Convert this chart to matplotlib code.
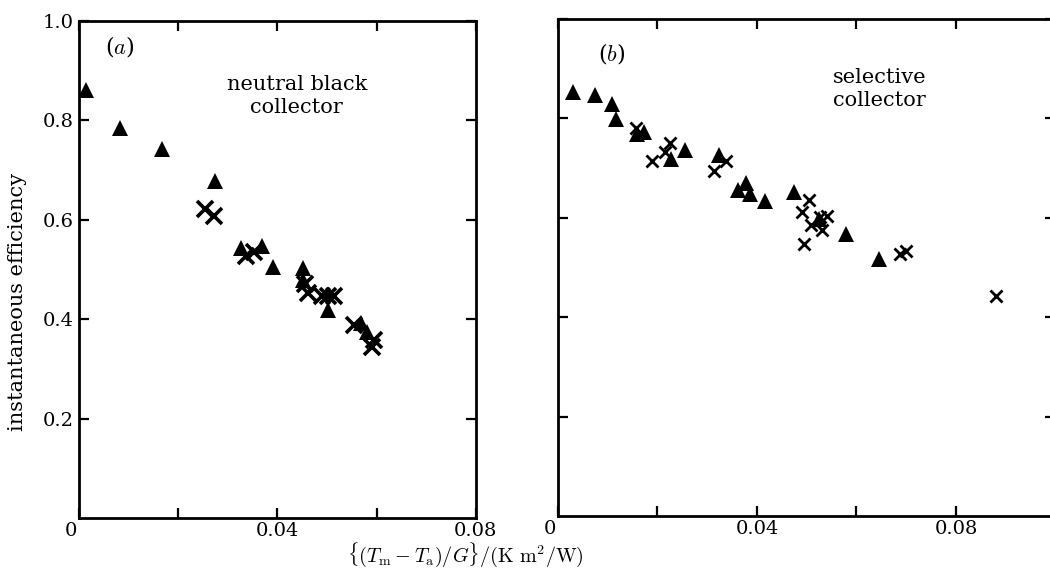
import numpy as np
import matplotlib
matplotlib.use("Agg")
import matplotlib.pyplot as plt
import matplotlib.transforms as mtransforms

plt.rcParams['font.family'] = ['DejaVu Serif']
plt.rcParams['mathtext.fontset'] = 'cm'

# (a) neutral black collector
a_tri_x = [0.0015, 0.0082, 0.0168, 0.0274, 0.0326, 0.0368, 0.0391, 0.0452,
           0.0451, 0.0501, 0.0568, 0.0581]
a_tri_y = [0.862, 0.785, 0.742, 0.678, 0.543, 0.548, 0.505, 0.503,
           0.478, 0.418, 0.393, 0.374]
a_crs_x = [0.0255, 0.0272, 0.0336, 0.0352, 0.0455, 0.0462, 0.0490, 0.0502,
           0.0515, 0.0555, 0.0595, 0.0590]
a_crs_y = [0.622, 0.607, 0.528, 0.536, 0.470, 0.452, 0.446, 0.447,
           0.446, 0.388, 0.358, 0.344]

# (b) selective collector
b_tri_x = [0.0030, 0.0075, 0.0108, 0.0116, 0.0158, 0.0172, 0.0228, 0.0256,
           0.0324, 0.0362, 0.0378, 0.0385, 0.0416, 0.0474, 0.0524, 0.0579,
           0.0645]
b_tri_y = [0.852, 0.846, 0.828, 0.798, 0.768, 0.772, 0.718, 0.737,
           0.726, 0.656, 0.670, 0.648, 0.634, 0.652, 0.598, 0.568,
           0.517]
b_crs_x = [0.0156, 0.0189, 0.0226, 0.0216, 0.0314, 0.0337, 0.0504, 0.0491,
           0.0509, 0.0530, 0.0527, 0.0541, 0.0494, 0.0687, 0.0700, 0.0881]
b_crs_y = [0.780, 0.715, 0.750, 0.732, 0.695, 0.715, 0.636, 0.612,
           0.585, 0.575, 0.602, 0.603, 0.547, 0.527, 0.533, 0.442]

y_ticks = [0.2, 0.4, 0.6, 0.8, 1.0]
y_labels = ['0.2', '0.4', '0.6', '0.8', '1.0']
x_labels = ['0', '0.04', '0.08']

fig = plt.figure(figsize=(10.5, 5.72), dpi=100)
ax1 = fig.add_axes([0.0752, 0.0944, 0.378, 0.869])
ax2 = fig.add_axes([0.5314, 0.0979, 0.4738, 0.869])


def style(ax, xmax, minor):
    ax.set_xlim(0, xmax)
    ax.set_ylim(0, 1.0)
    for s in ax.spines.values():
        s.set_linewidth(2.0)
    ax.set_xticks([0, 0.04, 0.08])
    ax.set_xticks(minor, minor=True)
    ax.set_yticks(y_ticks)
    ax.tick_params(which='both', direction='in', length=7, width=1.6,
                   top=True, right=True, labelsize=14, pad=3)
    ax.tick_params(axis='y', pad=4)


style(ax1, 0.08, [0.02, 0.06])
style(ax2, 0.1, [0.02, 0.06])
ax1.set_xticklabels(x_labels)
ax2.set_xticklabels(x_labels)
ax1.set_yticklabels(y_labels)
ax2.set_yticklabels([])

# the zero labels sit a little left of the corner
for ax in (ax1, ax2):
    lab = ax.get_xticklabels()[0]
    lab.set_transform(lab.get_transform() +
                      mtransforms.ScaledTranslation(-8 / 100, 0, fig.dpi_scale_trans))

ax1.plot(a_tri_x, a_tri_y, '^', color='black', ms=12, mew=0, ls='none')
ax1.plot(a_crs_x, a_crs_y, 'x', color='black', ms=11, mew=2.6, ls='none')
ax2.plot(b_tri_x, b_tri_y, '^', color='black', ms=11, mew=0, ls='none')
ax2.plot(b_crs_x, b_crs_y, 'x', color='black', ms=8.5, mew=2.0, ls='none')

ax1.text(0.103, 0.948, r'($\mathit{a}$)', transform=ax1.transAxes,
         ha='center', va='center', fontsize=16)
ax1.text(0.549, 0.849, 'neutral black\ncollector', transform=ax1.transAxes,
         ha='center', va='center', fontsize=15, linespacing=1.25)
ax2.text(0.1085, 0.930, r'($\mathit{b}$)', transform=ax2.transAxes,
         ha='center', va='center', fontsize=16)
ax2.text(0.647, 0.859, 'selective\ncollector', transform=ax2.transAxes,
         ha='center', va='center', fontsize=15, linespacing=1.25)

fig.text(0.017, 0.472, 'instantaneous efficiency', rotation=90,
         ha='center', va='center', fontsize=15)
fig.text(0.443, 0.005, r'$\{(T_\mathrm{m}-T_\mathrm{a})/G\}/(\mathrm{K\ m^2/W})$',
         ha='center', va='bottom', fontsize=14.5)

fig.savefig('out.png', dpi=100)
